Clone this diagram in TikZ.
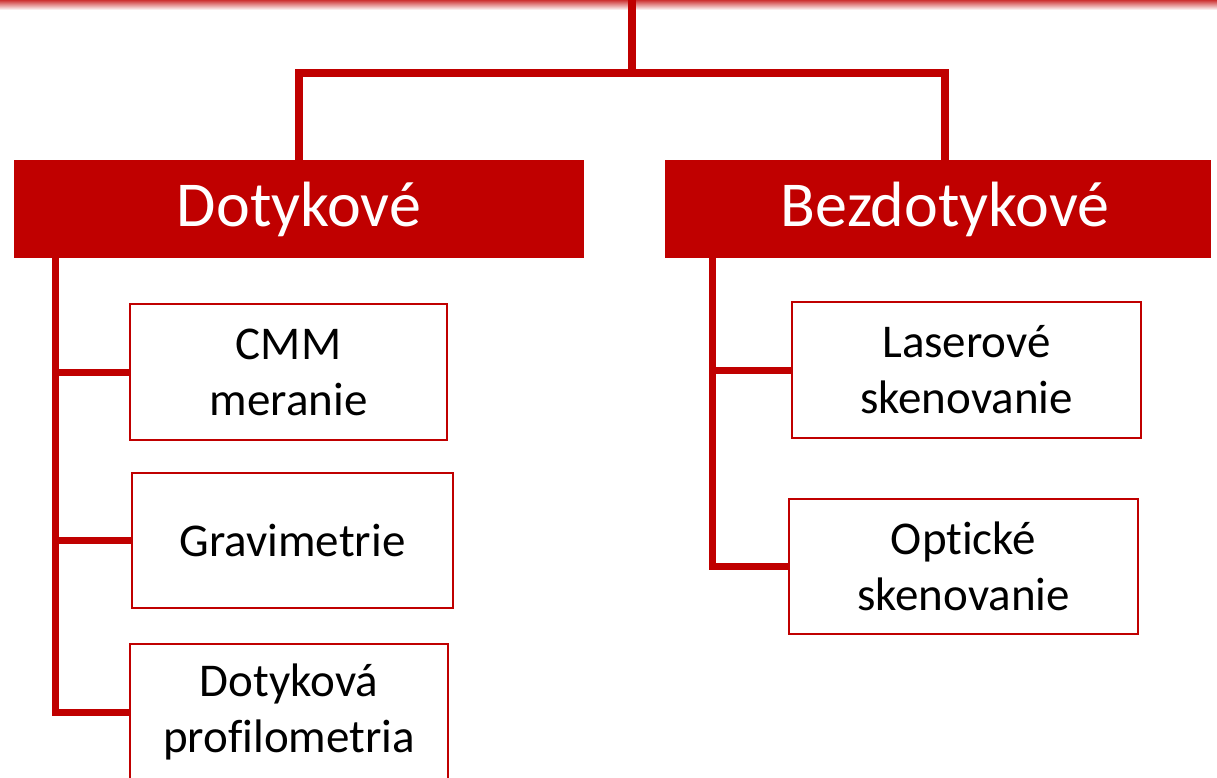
\documentclass[tikz,border=0pt]{standalone}
\usepackage{fontspec}
\setmainfont[Ligatures={NoCommon}]{Carlito}
\usetikzlibrary{positioning}
\definecolor{tmavocervena}{HTML}{C00000}

\begin{document}
\begin{tikzpicture}[x=1pt,y=-1pt,
	hlavna/.style={fill=tmavocervena, text=white, minimum height=98pt, inner sep=0pt, font=\fontsize{64}{76}\selectfont},
	metoda/.style={draw=tmavocervena, line width=2pt, fill=white, align=center, inner sep=0pt, font=\fontsize{47}{56}\selectfont},
	vetva/.style={draw=tmavocervena, line width=8pt, line join=miter},
	odbocka/.style={draw=tmavocervena, line width=7pt, line join=miter}]

	\useasboundingbox (0,0) rectangle (1217,778);

	% orezany pruh hore
	\shade[top color=tmavocervena!80, bottom color=white] (0,0) rectangle (1217,10);

	\node[hlavna, minimum width=570pt] (dot) at (299, 209) {Dotykové};
	\node[hlavna, minimum width=546pt] (bez) at (938, 209) {\hspace*{14pt}Bezdotykové};

	\coordinate (top) at (632, 0);
	\draw[vetva] (top) -- ++(0, 73) -| (dot.north);
	\draw[vetva] (top) -- ++(0, 73) -| ([xshift=7pt]bez.north);

	\node[metoda, minimum width=317pt, minimum height=136pt] (cmm) at (288.5, 372) {CMM\\meranie};
	\node[metoda, minimum width=321pt, minimum height=135pt] (grav) at (292.5, 540.5) {Gravimetrie};
	\node[metoda, minimum width=318pt, minimum height=136pt] (prof) at (289, 712) {Dotyková\\profilometria};

	\node[metoda, minimum width=349pt, minimum height=136pt] (laser) at (966.5, 370) {Laserové\\skenovanie};
	\node[metoda, minimum width=349pt, minimum height=135pt] (opt) at (963.5, 566.5) {Optické\\skenovanie};

	\coordinate (ls) at (55, 258);
	\draw[odbocka] (ls) |- (cmm.west);
	\draw[odbocka] (ls) |- (grav.west);
	\draw[odbocka] (ls) |- (prof.west);

	\coordinate (rs) at (712, 258);
	\draw[odbocka] (rs) |- (laser.west);
	\draw[odbocka] (rs) |- (opt.west);

\end{tikzpicture}
\end{document}
